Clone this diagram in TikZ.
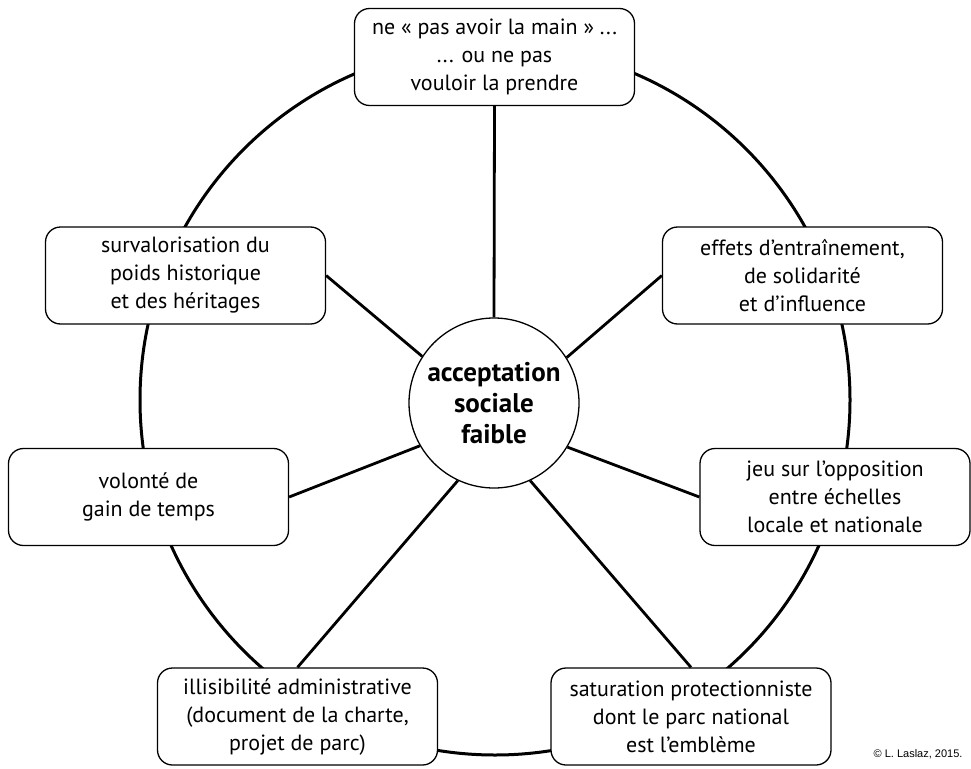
\documentclass[tikz,border=0pt]{standalone}
\usepackage{fontspec}
\setmainfont{PT Sans}
\newfontfamily\creditfont{Liberation Sans}
\usepackage{tikz}

\begin{document}
\begin{tikzpicture}[x=1pt,y=1pt,yscale=-1,
    box/.style={draw,line width=1.3pt,fill=white,rounded corners=15pt,
      minimum width=280pt,minimum height=97pt,align=center,inner sep=0pt,
      font=\fontsize{22}{28}\selectfont},
    hub/.style={draw,line width=1.3pt,fill=white,circle,minimum size=170pt,
      inner sep=0pt,align=center,font=\fontsize{27}{31}\selectfont\bfseries},
    spoke/.style={line width=2.8pt},
    rim/.style={line width=3pt}]
  \useasboundingbox (0,0) rectangle (971,768);

  %Shape: Circle (outer ring)
  \draw [rim] (495,400) circle (355);

  % Text Node
  \node [hub] (hub) at (494,403) {acceptation\\sociale\\faible};
  % Text Node
  \node [box] (main) at (494.5,57) {ne « pas avoir la main » ...\\... ou ne pas\\vouloir la prendre};
  % Text Node
  \node [box] (heritage) at (185.5,275.5) {survalorisation du\\poids historique\\et des héritages};
  % Text Node
  \node [box] (influence) at (802.5,275.5) {effets d’entraînement,\\de solidarité\\et d’influence};
  % Text Node
  \node [box] (temps) at (148.5,497) {volonté de\\gain de temps};
  % Text Node
  \node [box,minimum width=270pt] (echelles) at (835,497) {jeu sur l’opposition\\entre échelles\\locale et nationale};
  % Text Node
  \node [box] (charte) at (297.5,716.5) {illisibilité administrative\\(document de la charte,\\projet de parc)};
  % Text Node
  \node [box] (embleme) at (691,716.5) {saturation protectionniste\\dont le parc national\\est l’emblème};

  %Straight Lines
  \draw [spoke] (hub.north) -- (main.south);
  \draw [spoke] (hub.147) -- (heritage.east);
  \draw [spoke] (hub.32) -- (influence.west);
  \draw [spoke] (hub.210) -- (temps.east);
  \draw [spoke] (hub.329) -- (echelles.west);
  \draw [spoke] (hub.245) -- (charte.north);
  \draw [spoke] (hub.295) -- (embleme.north);

  % Text Node
  \node [anchor=base east,font=\creditfont\fontsize{11}{13}\selectfont] (credit) at (966,757) {© L. Laslaz, 2015.};
\end{tikzpicture}
\end{document}
